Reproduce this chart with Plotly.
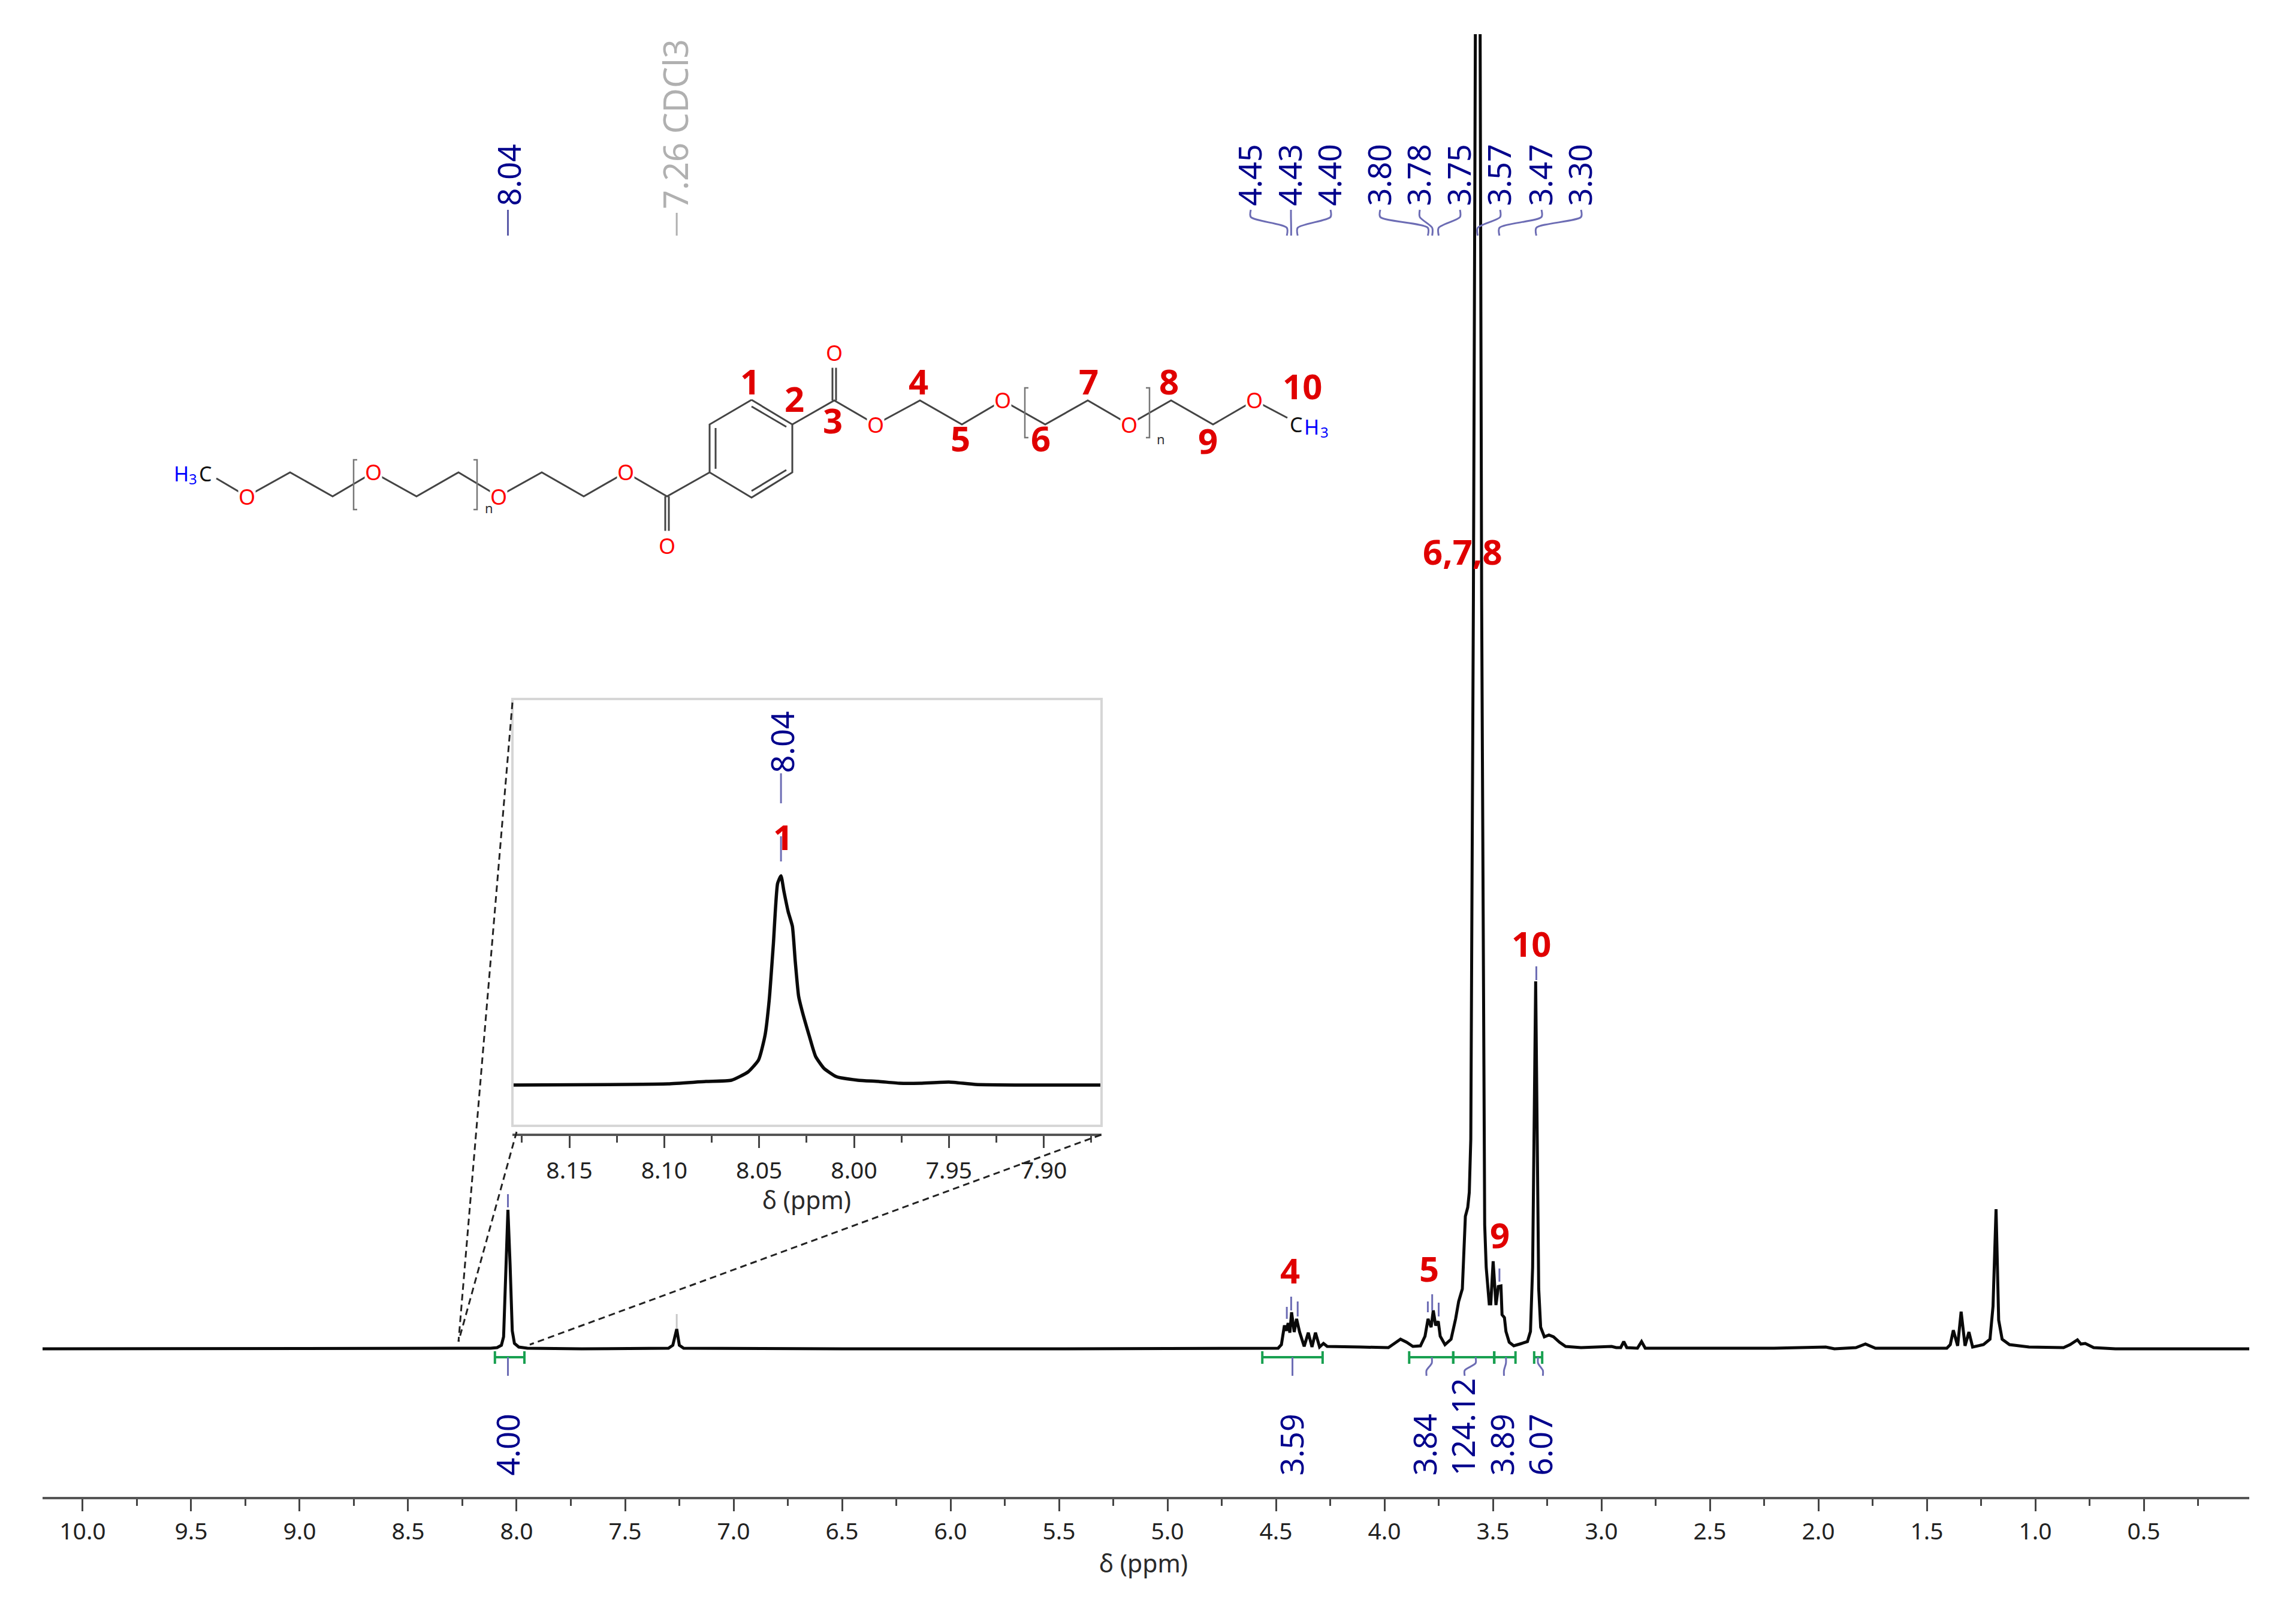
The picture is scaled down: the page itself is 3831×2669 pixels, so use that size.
# nmr_spectrum.py
import plotly.graph_objects as go

W, H = 3831, 2669
FONT = "Noto Sans"
NAVY = "#00008c"
LINK = "#6c6cb4"
GREEN = "#18a050"
RED = "#e00000"
GREY = "#b0b0b0"

# --- Data ---
spectrum_ppm = [
    10.185, 9.20, 8.60, 8.12, 8.09, 8.07, 8.06, 8.05, 8.04, 8.03, 8.02, 8.01, 7.99, 7.95, 7.70,
    7.30, 7.28, 7.262, 7.25, 7.23, 6.50, 5.50, 4.856, 4.49, 4.475, 4.461, 4.452, 4.444, 4.436,
    4.428, 4.416, 4.405, 4.391, 4.370, 4.351, 4.334, 4.318, 4.299, 4.281, 4.264, 4.109, 3.982,
    3.954, 3.926, 3.898, 3.869, 3.834, 3.813, 3.799, 3.785, 3.775, 3.764, 3.752, 3.743, 3.721,
    3.693, 3.672, 3.658, 3.641, 3.633, 3.627, 3.616, 3.609, 3.602, 3.590, 3.581, 3.575, 3.565,
    3.559, 3.552, 3.542, 3.538, 3.531, 3.524, 3.517, 3.510, 3.499, 3.486, 3.475, 3.463, 3.458,
    3.447, 3.440, 3.425, 3.404, 3.376, 3.341, 3.327, 3.317, 3.303, 3.289, 3.280, 3.263, 3.242,
    3.221, 3.193, 3.165, 3.094, 2.953, 2.932, 2.911, 2.897, 2.883, 2.834, 2.815, 2.798, 2.205,
    1.966, 1.926, 1.827, 1.783, 1.737, 1.408, 1.392, 1.378, 1.358, 1.342, 1.324, 1.306, 1.289,
    1.239, 1.209, 1.195, 1.181, 1.169, 1.153, 1.119, 1.029, 0.870, 0.840, 0.806, 0.790, 0.770,
    0.731, 0.631, 0.014,
]
spectrum_int = [
    0, 0, 0, 1, 2, 6, 20, 120, 232, 140, 30, 9, 3, 1, 0,
    1, 6, 33, 6, 1, 0, 0, 0, 1, 7, 39, 30, 43, 27,
    61, 28, 50, 28, 4, 27, 3, 27, 3, 9, 4, 3, 2,
    9, 16, 11, 4, 5, 21, 50, 36, 64, 39, 46, 21, 7,
    16, 50, 79, 100, 171, 221, 236, 261, 350, 1250, 2193, 2600, 2600,
    2193, 1250, 350, 207, 136, 100, 75, 75, 146, 73, 104, 105, 57,
    52, 29, 11, 5, 8, 12, 29, 136, 613, 100, 36, 20, 23,
    20, 11, 4, 2, 4, 2, 2, 12, 2, 1, 12, 1, 1,
    3, 0, 2, 8, 1, 1, 7, 31, 5, 62, 5, 28, 3,
    7, 16, 71, 233, 48, 16, 7, 3, 2, 7, 15, 8, 9,
    2, 0, 0,
]

inset_ppm = [
    8.180, 8.120, 8.098, 8.078, 8.0647, 8.0558, 8.0503, 8.0469, 8.0447, 8.0425, 8.0403, 8.0385,
    8.0370, 8.0347, 8.0325, 8.0310, 8.0292, 8.0274, 8.0237, 8.0203, 8.0159, 8.0093, 7.998, 7.987,
    7.976, 7.965, 7.950, 7.936, 7.909, 7.870,
]
inset_int = [
    0, 1, 2, 6, 8, 22, 42, 83, 142, 236, 336, 349,
    324, 289, 265, 207, 148, 124, 83, 48, 28, 14, 8, 6,
    3, 3, 5, 1, 0, 0,
]

peak_labels = ["4.45", "4.43", "4.40", "3.80", "3.78", "3.75", "3.57", "3.47", "3.30"]
peak_ppm = [4.45, 4.43, 4.40, 3.80, 3.78, 3.75, 3.57, 3.47, 3.30]
tick_ppm = [8.04, 4.45, 4.43, 4.40, 3.80, 3.78, 3.75, 3.47, 3.30]
tick_low = [236, 50, 64, 54, 61, 64, 54, 112, 615]
tick_high = [258, 70, 87, 79, 79, 91, 77, 134, 638]

integral_from = [8.10, 4.563, 3.886, 3.683, 3.494, 3.310]
integral_to = [7.964, 4.285, 3.683, 3.494, 3.396, 3.273]
integral_values = ["4.00", "3.59", "3.84", "124.12", "3.89", "6.07"]
integral_top = [8.04, 4.424, 3.782, 3.580, 3.440, 3.292]
integral_end = [8.04, 4.424, 3.806, 3.630, 3.449, 3.270]


def xp(px):
    return px / W


def yp(py):
    return 1 - py / H


def int_y(py):
    # main spectrum: height above the baseline at pixel row 2250
    return 2250 - py


def px_ppm(px):
    return 10 - (px - 138) / 362


def label_x(i):
    return [2084, 2151, 2217, 2300, 2366, 2433, 2500, 2569, 2635][i]


fig = go.Figure()

# --- Spectrum and inset ---
fig.add_trace(go.Scatter(x=spectrum_ppm, y=spectrum_int, mode="lines",
                         line=dict(color="#0a0a0a", width=5), xaxis="x", yaxis="y"))
fig.add_trace(go.Scatter(x=inset_ppm, y=inset_int, mode="lines",
                         line=dict(color="#0a0a0a", width=5.5, shape="spline", smoothing=0.5),
                         xaxis="x2", yaxis="y2"))
fig.add_trace(go.Scatter(x=[8.0385, 8.0385, None, 8.0385, 8.0385], y=[373, 415, None, 470, 520],
                         mode="lines", line=dict(color=LINK, width=3), xaxis="x2", yaxis="y2"))


def main_line(x, y, color=LINK, width=3, shape="linear"):
    fig.add_trace(go.Scatter(x=x, y=y, mode="lines", xaxis="x", yaxis="y",
                             line=dict(color=color, width=width, shape=shape, smoothing=0.8)))


# Peak marks just above the peaks
for p, lo, hi in zip(tick_ppm, tick_low, tick_high):
    main_line([p, p], [lo, hi])
main_line([7.262, 7.262], [34, 58], color="#c8c8c8")

# Peak label connectors at the top
for i, p in enumerate(peak_ppm):
    end = px_ppm(label_x(i) + 3)
    main_line([end, end, p, p], [int_y(350), int_y(362), int_y(380), int_y(393)], shape="spline")
main_line([8.04, 8.04], [int_y(350), int_y(393)], color="#5a5aa8")
main_line([7.262, 7.262], [int_y(355), int_y(393)], color=GREY)

# Integrals
for a, b in zip(integral_from, integral_to):
    main_line([a, b], [-14, -14], color=GREEN, width=4)
    main_line([a, a], [-4, -25], color=GREEN, width=4)
    main_line([b, b], [-4, -25], color=GREEN, width=4)
for top, end in zip(integral_top, integral_end):
    main_line([top, top, end, end], [-14, -24, -36, -45], shape="spline")

axis_font = dict(family=FONT, size=39, color="#222222")

fig.update_layout(
    width=W, height=H, showlegend=False,
    margin=dict(l=0, r=0, t=0, b=0),
    paper_bgcolor="white", plot_bgcolor="rgba(0,0,0,0)",
    xaxis=dict(
        domain=[xp(71), xp(3753)], range=[10.185, 0.014], anchor="y",
        dtick=0.5, tick0=0, tickformat=".1f", showgrid=False, zeroline=False,
        showline=True, linecolor="#555555", linewidth=4,
        ticks="outside", ticklen=20, tickwidth=3, tickcolor="#444444",
        minor=dict(ticks="outside", dtick=0.25, tick0=0, ticklen=11, tickwidth=3,
                   tickcolor="#444444", showgrid=False),
        tickfont=axis_font, ticklabelstandoff=0,
    ),
    yaxis=dict(domain=[yp(2497), yp(57)], range=[int_y(2497), int_y(57)], visible=False),
    xaxis2=dict(
        domain=[xp(855), xp(1838)], range=[8.180, 7.8696], anchor="free", position=yp(1893),
        overlaying=None,
        dtick=0.05, tick0=0, tickformat=".2f", showgrid=False, zeroline=False,
        showline=True, linecolor="#555555", linewidth=4,
        ticks="outside", ticklen=20, tickwidth=3, tickcolor="#444444",
        minor=dict(ticks="outside", dtick=0.025, tick0=0, ticklen=11, tickwidth=3,
                   tickcolor="#444444", showgrid=False),
        tickfont=axis_font, ticklabelstandoff=4,
    ),
    yaxis2=dict(domain=[yp(1878), yp(1166)], range=[-68, 644], visible=False, anchor="x2"),
)

# --- Frame and zoom guides ---
shapes = [
    dict(type="rect", xref="paper", yref="paper", x0=xp(855), x1=xp(1838), y0=yp(1878), y1=yp(1166),
         line=dict(color="#d6d6d6", width=4)),
]
for x0, y0, x1, y1 in [(855, 1172, 765, 2238), (862, 1888, 765, 2238), (1837, 1893, 884, 2243)]:
    shapes.append(dict(type="line", xref="paper", yref="paper", x0=xp(x0), y0=yp(y0), x1=xp(x1), y1=yp(y1),
                       line=dict(color="#222222", width=3, dash="11px,7px")))


# --- Structure drawing ---
def bond_path(points, color="#444444", width=3):
    d = "M " + " L ".join(f"{xp(x):.5f} {yp(y):.5f}" for x, y in points)
    shapes.append(dict(type="path", path=d, xref="paper", yref="paper",
                       line=dict(color=color, width=width), layer="below"))


bond_path([(1254, 667), (1322, 708), (1322, 788), (1254, 830), (1184, 788), (1184, 708), (1254, 667)])
bond_path([(1254, 678), (1312, 712)])
bond_path([(1194, 714), (1194, 782)])
bond_path([(1254, 819), (1312, 784)])
bond_path([(1322, 708), (1392, 668), (1461, 708), (1535, 668), (1605, 708), (1673, 668), (1744, 708),
           (1815, 668), (1884, 708), (1954, 668), (2024, 708), (2093, 668), (2148, 697)])
bond_path([(1389, 668), (1389, 607)])
bond_path([(1395, 668), (1395, 607)])
bond_path([(1184, 788), (1113, 828), (1044, 788), (974, 828), (904, 788), (832, 828), (765, 788),
           (695, 828), (623, 788), (555, 828), (484, 788), (412, 828), (361, 798)])
bond_path([(1110, 828), (1110, 892)])
bond_path([(1116, 828), (1116, 892)])
# brackets around the repeat units, hooks point inward
for x, y0, y1 in [(1710, 647, 730), (590, 767, 850)]:
    bond_path([(x + 6, y0), (x, y0), (x, y1), (x + 6, y1)], color="#777777", width=2.5)
for x, y0, y1 in [(1918, 647, 730), (796, 767, 850)]:
    bond_path([(x - 6, y0), (x, y0), (x, y1), (x - 6, y1)], color="#777777", width=2.5)
fig.update_layout(shapes=shapes)


# --- Text ---
def note(text, x, y, size, color, bold=False, angle=0, xanchor="center", yanchor="middle", bg=None):
    if bold:
        text = f"<b>{text}</b>"
    fig.add_annotation(text=text, x=xp(x), y=yp(y), xref="paper", yref="paper", showarrow=False,
                       font=dict(family=FONT, size=size, color=color), textangle=angle,
                       xanchor=xanchor, yanchor=yanchor, bgcolor=bg, borderpad=0)


note("δ (ppm)", 1908, 2607, 41, "#2a2a2a")
note("δ (ppm)", 1346, 2001, 41, "#2a2a2a")

for i, label in enumerate(peak_labels):
    note(label, label_x(i), 345, 52, NAVY, angle=-90, yanchor="bottom")
note("8.04", 848, 345, 52, NAVY, angle=-90, yanchor="bottom")
note("7.26 CDCl3", 1126, 350, 56, GREY, angle=-90, yanchor="bottom")
note("8.04", 1304, 1291, 52, NAVY, angle=-90, yanchor="bottom")

for value, x in zip(integral_values, [846, 2154, 2376, 2440, 2505, 2569]):
    note(value, x, 2463, 52, NAVY, angle=-90, yanchor="bottom")

for text, x, y in [("6,7,8", 2440, 920), ("10", 2555, 1573), ("4", 2152, 2118), ("5", 2384, 2115),
                   ("9", 2502, 2059), ("1", 1306, 1395), ("1", 1251, 635), ("2", 1325, 665),
                   ("3", 1389, 700), ("4", 1532, 635), ("5", 1602, 731), ("6", 1736, 731),
                   ("7", 1816, 635), ("8", 1950, 635), ("9", 2015, 735), ("10", 2173, 643)]:
    note(text, x, y, 58, RED, bold=True)

for x, y in [(1392, 588), (1461, 708), (1673, 668), (1884, 708), (2093, 668), (1113, 910), (1044, 788),
             (832, 828), (623, 788), (412, 828)]:
    note("O", x, y, 36, "#ff0000", bg="white")
note("n", 1937, 732, 22, "#333333")
note("n", 816, 847, 22, "#333333")
note("C", 2163, 708, 34, "#111111")
note("H", 2188, 712, 34, "#0000ff")
note("3", 2210, 720, 24, "#0000ff")
note("C", 343, 790, 34, "#111111")
note("H", 302, 790, 34, "#0000ff")
note("3", 322, 798, 24, "#0000ff")

fig.write_html("out.html", post_script="document.body.style.margin='0';",
               config={"displayModeBar": False})
